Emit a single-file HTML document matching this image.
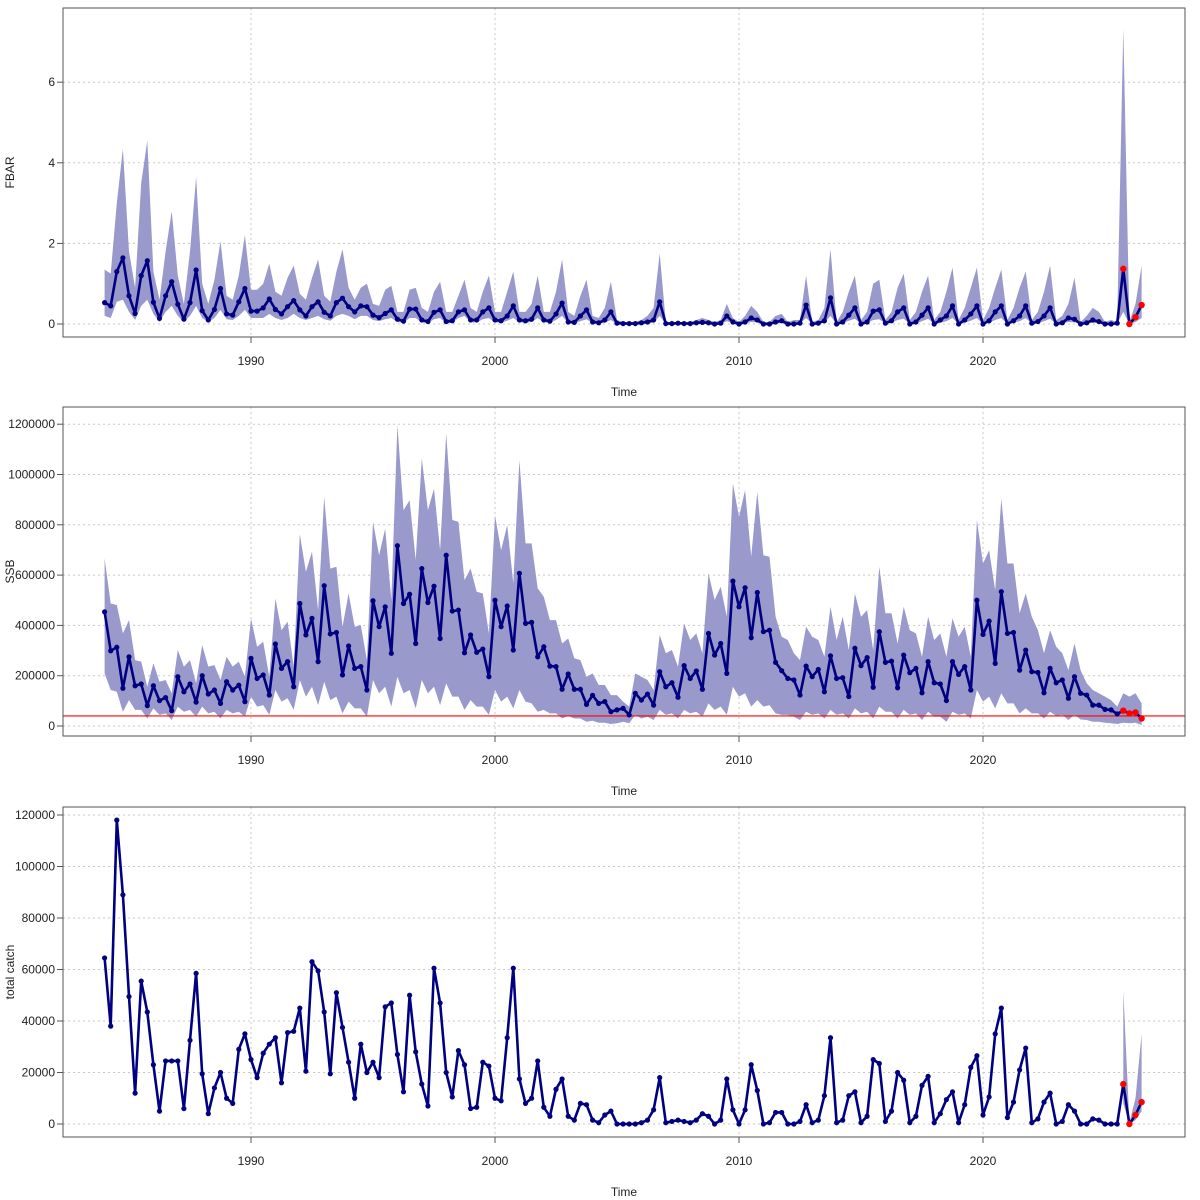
<!DOCTYPE html>
<html><head><meta charset="utf-8"><style>
html,body{margin:0;padding:0;background:#fff;}
svg{display:block;font-family:"Liberation Sans",Arial,sans-serif;}
</style></head><body>
<svg id="chart" width="1200" height="1200" viewBox="0 0 1200 1200" xmlns="http://www.w3.org/2000/svg"></svg>
<script>
// ---- data (quarterly, 1984.00 .. 2026.50) ----
const startYear = 1984;
const xTickYears = [1990, 2000, 2010, 2020];
const fbarTicks = [0, 2, 4, 6];
const ssbTicks = [0, 200000, 400000, 600000, 800000, 1000000, 1200000];
const catchTicks = [0, 20000, 40000, 60000, 80000, 100000, 120000];
const ssbRefLine = 40000;
const nForecast = 4;

const fbarMean = [0.53,0.45,1.3,1.64, 0.7,0.26,1.2,1.57, 0.54,0.14,0.7,1.05, 0.49,0.12,0.53,1.34, 0.33,0.1,0.36,0.88, 0.25,0.22,0.55,0.88,
0.32,0.32,0.4,0.62, 0.36,0.25,0.43,0.58, 0.35,0.2,0.43,0.55, 0.29,0.2,0.53,0.64, 0.43,0.3,0.45,0.43, 0.22,0.16,0.26,0.35, 0.12,0.07,0.37,0.37, 0.1,0.06,0.29,0.35, 0.06,0.08,0.3,0.35, 0.1,0.1,0.3,0.4,
0.1,0.08,0.2,0.45, 0.1,0.08,0.12,0.4, 0.1,0.07,0.25,0.52, 0.05,0.04,0.2,0.35, 0.05,0.03,0.1,0.3, 0.02,0.01,0.01,0.01, 0.03,0.05,0.1,0.55, 0.01,0.01,0.02,0.01, 0.01,0.03,0.04,0.03, 0,0.02,0.2,0.05,
0,0.05,0.15,0.1, 0,0,0.05,0.08, 0,0,0.02,0.47, 0,0.02,0.08,0.65, 0,0.05,0.22,0.4, 0,0.05,0.32,0.35, 0.02,0.08,0.3,0.4, 0,0.05,0.22,0.4, 0,0.1,0.2,0.45, 0,0.1,0.25,0.45,
0,0.08,0.3,0.45, 0,0.08,0.2,0.45, 0.02,0.06,0.2,0.4, 0,0.03,0.15,0.12, 0,0.03,0.1,0.06, 0,0,0.02,1.37, 0,0.17,0.47];
const fbarHigh = [1.35,1.25,3.0,4.35, 1.8,0.9,3.5,4.55, 1.3,0.6,1.8,2.8, 1.2,0.5,1.8,3.65, 1.0,0.5,1.1,2.05, 0.7,0.6,1.2,2.2,
0.85,0.85,1.0,1.5, 0.8,0.7,1.15,1.45, 0.75,0.6,1.15,1.6, 0.7,0.55,1.3,1.85, 0.9,0.6,0.9,1.0, 0.5,0.45,0.85,0.95, 0.3,0.3,0.85,0.9, 0.4,0.3,0.8,1.05, 0.3,0.3,0.7,1.1, 0.4,0.3,0.8,1.2,
0.3,0.3,0.8,1.3, 0.3,0.3,0.5,1.2, 0.3,0.3,0.8,1.6, 0.3,0.2,0.7,1.1, 0.2,0.15,0.4,1.05, 0.1,0.05,0.05,0.05, 0.1,0.2,0.4,1.75, 0.05,0.05,0.05,0.05, 0.05,0.1,0.15,0.1, 0.05,0.1,0.5,0.15,
0.05,0.2,0.45,0.3, 0.05,0.05,0.2,0.25, 0.05,0.1,0.1,1.2, 0.05,0.1,0.4,1.85, 0.05,0.3,0.8,1.2, 0.1,0.3,1.0,1.1, 0.1,0.3,0.9,1.25, 0.1,0.3,0.8,1.2, 0.1,0.3,0.8,1.4, 0.1,0.4,0.9,1.4,
0.1,0.4,0.9,1.35, 0.1,0.4,0.9,1.3, 0.1,0.3,0.8,1.45, 0.1,0.2,0.5,1.15, 0.05,0.2,0.4,0.3, 0.05,0.1,0.05,7.35, 0.05,0.5,1.45];
const fbarLow = [0.2,0.15,0.55,0.6, 0.3,0.1,0.45,0.6, 0.25,0.05,0.3,0.45, 0.2,0.05,0.2,0.45, 0.15,0.05,0.15,0.35, 0.12,0.1,0.2,0.35,
0.15,0.15,0.15,0.25, 0.15,0.1,0.15,0.25, 0.15,0.1,0.15,0.2, 0.12,0.08,0.2,0.25, 0.2,0.12,0.2,0.2, 0.1,0.07,0.12,0.15, 0.05,0.03,0.15,0.15, 0.04,0.02,0.12,0.15, 0.02,0.03,0.15,0.2, 0.04,0.04,0.12,0.15,
0.04,0.03,0.08,0.15, 0.04,0.03,0.05,0.15, 0.04,0.03,0.1,0.2, 0.02,0.01,0.07,0.12, 0.02,0.01,0.03,0.1, 0,0,0,0, 0.01,0.02,0.03,0.2, 0,0,0,0, 0,0.01,0.01,0.01, 0,0,0.07,0.02,
0,0.02,0.05,0.04, 0,0,0.02,0.03, 0,0,0.01,0.15, 0,0.01,0.03,0.2, 0,0.02,0.08,0.13, 0,0.02,0.1,0.12, 0.01,0.03,0.1,0.13, 0,0.02,0.07,0.13, 0,0.03,0.07,0.15, 0,0.03,0.08,0.15,
0,0.03,0.1,0.15, 0,0.03,0.07,0.15, 0.01,0.02,0.07,0.13, 0,0.01,0.05,0.04, 0,0.01,0.03,0.02, 0,0,0.01,0.3, 0,0.05,0.15];

// SSB in thousands
const ssbMean = [454,299,313,150, 275,160,167,81, 160,101,113,61, 196,136,167,95, 200,127,143,90, 176,143,162,97,
269,189,203,123, 326,229,256,156, 487,362,428,256, 558,366,372,203, 318,229,236,143, 498,395,474,289, 717,487,524,328, 626,491,556,348, 679,457,461,291, 362,293,306,196,
500,395,477,302, 607,408,412,275, 315,238,236,146, 207,146,146,86, 122,90,97,57, 64,70,44,130, 103,127,83,216, 156,172,114,240, 189,219,146,368, 282,328,209,576,
474,550,351,531, 375,381,253,220, 189,183,123,238, 196,225,136,279, 189,192,117,309, 240,272,154,375, 253,258,152,282, 212,229,132,256, 172,167,101,256, 205,236,143,500,
364,417,249,534, 368,372,222,302, 216,213,132,229, 172,183,110,196, 130,123,83,83, 66,64,48,61, 50,54,30];
const ssbHigh = [666,487,481,368, 421,262,256,156, 249,176,183,130, 302,236,262,170, 322,236,242,183, 275,236,256,196,
428,315,335,196, 507,381,415,236, 763,613,693,461, 911,626,633,395, 527,395,401,262, 812,679,785,501, 1196,858,898,660, 1064,858,944,699, 1163,819,812,580, 626,534,527,368,
838,699,799,567, 1057,726,726,547, 514,421,421,328, 348,269,262,196, 209,163,163,123, 123,97,77,209, 196,183,143,362, 289,302,236,408, 342,368,289,607, 501,554,434,964,
832,938,673,931, 679,673,434,355, 342,289,262,395, 355,342,275,474, 342,434,302,527, 434,461,302,633, 448,448,328,474, 381,368,275,434, 342,368,275,428, 355,395,275,818,
646,699,540,904, 646,646,448,527, 434,381,289,381, 315,289,222,328, 222,170,143,130, 117,103,77,130, 117,130,90];
const ssbLow = [209,143,136,57, 103,64,64,30, 70,44,50,24, 77,57,64,37, 77,50,57,30, 64,50,57,37,
117,77,83,44, 143,97,110,64, 183,117,156,83, 176,103,117,50, 97,70,70,37, 183,130,156,77, 196,130,143,70, 183,130,156,83, 170,117,117,64, 103,77,77,44,
143,97,117,70, 143,97,90,57, 64,50,50,30, 40,30,30,17, 21,13,13,8, 11,17,11,44, 30,37,24,64, 44,50,30,64, 50,57,37,90, 64,77,44,156,
117,130,77,103, 77,83,50,44, 44,37,24,57, 44,50,30,64, 44,50,30,70, 50,57,30,77, 57,57,30,64, 44,50,24,57, 37,37,17,57, 44,50,30,143,
97,117,70,130, 90,90,50,70, 50,50,30,57, 40,44,24,44, 26,24,17,17, 13,11,8,13, 11,13,4];

const catchMean = [64500,38000,118000,89000, 49500,12000,55500,43500, 23000,5000,24500,24500, 24500,6000,32500,58500, 19500,4000,14000,20000, 10000,8000,29000,35000,
25000,18000,27500,31000, 33500,16000,35500,36000, 45000,20500,63000,59500, 43500,19500,51000,37500, 24000,10000,31000,20000, 24000,18000,45500,47000, 27000,12500,50000,28000, 15500,7000,60500,47000, 20000,10500,28500,23000, 6000,6500,24000,22500,
10000,9000,33500,60500, 17500,8000,10000,24500, 6500,3000,13500,17500, 3000,1500,8000,7500, 1500,500,3500,5000, 0,0,0,0, 500,1500,5500,18000, 500,1000,1500,1000, 500,1500,4000,3000, 0,1500,17500,5500,
0,5500,23000,13000, 0,500,4500,4500, 0,0,1000,7500, 500,1500,11000,33500, 500,1500,11000,12500, 500,3000,25000,23500, 1000,5000,20000,17000, 500,3000,15000,18500, 500,4000,9500,12500, 500,7500,22000,26500,
3500,10500,35000,45000, 2500,8500,21000,29500, 500,2000,8500,12000, 0,1000,7500,5000, 0,0,2000,1500, 0,0,0,15500, 0,3500,8500];
const catchHighFc = [52000,500,10000,35000];
const catchLowFc = [8000,0,1500,5000];

// ---- layout ----
const svg = document.getElementById('chart');
const NS = 'http://www.w3.org/2000/svg';
const X0 = 63, X1 = 1185;
function xs(i){ const t = startYear + i*0.25; return 251 + (t-1990)*24.4; }
function el(tag, attrs, parent){ const e = document.createElementNS(NS, tag); for (const k in attrs) e.setAttribute(k, attrs[k]); (parent||svg).appendChild(e); return e; }

function panel(cfg){
  const g = el('g', {});
  
  
  const ys = v => cfg.y0 - (v / cfg.unit) * cfg.pxPerUnit;
  // grid
  xTickYears.forEach(yr => {
    const x = 251 + (yr-1990)*24.4;
    const l = el('line', {x1:x, x2:x, y1:cfg.top, y2:cfg.bottom, stroke:'#c8c8c8', 'stroke-dasharray':'2,3', 'stroke-width':1}, g);
    
    
  });
  cfg.ticks.forEach(v => {
    const y = ys(v);
    const l = el('line', {x1:X0, x2:X1, y1:y, y2:y, stroke:'#c8c8c8', 'stroke-dasharray':'2,3', 'stroke-width':1}, g);
    
    
  });
  // band
  if (cfg.high) {
    const off = cfg.bandOffset || 0;
    let pts = [];
    for (let i=0;i<cfg.high.length;i++) pts.push(xs(i+off).toFixed(1)+','+ys(cfg.high[i]).toFixed(1));
    for (let i=cfg.low.length-1;i>=0;i--) pts.push(xs(i+off).toFixed(1)+','+ys(cfg.low[i]).toFixed(1));
    const p = el('polygon', {points: pts.join(' '), fill:'#9999cc', stroke:'none'}, g);
    
    
  }
  // reference line
  if (cfg.refLine !== undefined) {
    const y = ys(cfg.refLine);
    const r = el('line', {x1:X0, x2:X1, y1:y, y2:y, stroke:'#ff0000', 'stroke-width':1.2}, g);
    
    
  }
  // mean line
  const d = cfg.mean.map((v,i)=>(i?'L':'M')+xs(i).toFixed(1)+','+ys(v).toFixed(1)).join(' ');
  const line = el('path', {d:d, fill:'none', stroke:'#000080', 'stroke-width':2.6, 'stroke-linejoin':'round'}, g);
  
  
  const n = cfg.mean.length;
  cfg.mean.forEach((v,i) => {
    const fc = i >= n - nForecast;
    const c = el('circle', {cx:xs(i), cy:ys(v), r: fc?3.2:2.6, fill: fc?'#ff0000':'#000080'}, g);
    
    
  });
  // box
  const box = el('rect', {x:X0, y:cfg.top, width:X1-X0, height:cfg.bottom-cfg.top, fill:'none', stroke:'#555', 'stroke-width':1}, g);
  
  
  // y ticks
  cfg.ticks.forEach(v => {
    const y = ys(v);
    const t = el('line', {x1:X0-6, x2:X0, y1:y, y2:y, stroke:'#555'}, g);
    
    
    const tx = el('text', {x:X0-8, y:y+4, 'text-anchor':'end', 'font-size':12, fill:'#222'}, g);
    tx.textContent = String(v);
    
    
  });
  // x ticks
  xTickYears.forEach(yr => {
    const x = 251 + (yr-1990)*24.4;
    const t = el('line', {x1:x, x2:x, y1:cfg.bottom, y2:cfg.bottom+6, stroke:'#555'}, g);
    
    
    const tx = el('text', {x:x, y:cfg.bottom+28, 'text-anchor':'middle', 'font-size':12, fill:'#222'}, g);
    tx.textContent = String(yr);
    
    
  });
  const xt = el('text', {x:624, y:cfg.bottom+59, 'text-anchor':'middle', 'font-size':12, fill:'#222'}, g);
  xt.textContent = 'Time';
  
  
  const cy = (cfg.top+cfg.bottom)/2;
  const yt = el('text', {x:14, y:cy, 'text-anchor':'middle', 'font-size':12, fill:'#222', transform:'rotate(-90 14 '+cy+')'}, g);
  yt.textContent = cfg.ylabel;
  
  
}

panel({name:'fbar', top:8, bottom:337, y0:324, unit:1, pxPerUnit:40.3, ticks:fbarTicks, ylabel:'FBAR', mean:fbarMean, high:fbarHigh, low:fbarLow});
panel({name:'ssb', top:407, bottom:736, y0:726, unit:200000, pxPerUnit:50.3, ticks:ssbTicks, ylabel:'SSB',
  mean:ssbMean.map(v=>v*1000), high:ssbHigh.map(v=>v*1000), low:ssbLow.map(v=>v*1000), refLine:ssbRefLine});
panel({name:'catch', top:807, bottom:1137, y0:1124, unit:20000, pxPerUnit:51.5, ticks:catchTicks, ylabel:'total catch',
  mean:catchMean, high:catchHighFc, low:catchLowFc, bandOffset:catchMean.length - nForecast});
</script>
</body></html>
